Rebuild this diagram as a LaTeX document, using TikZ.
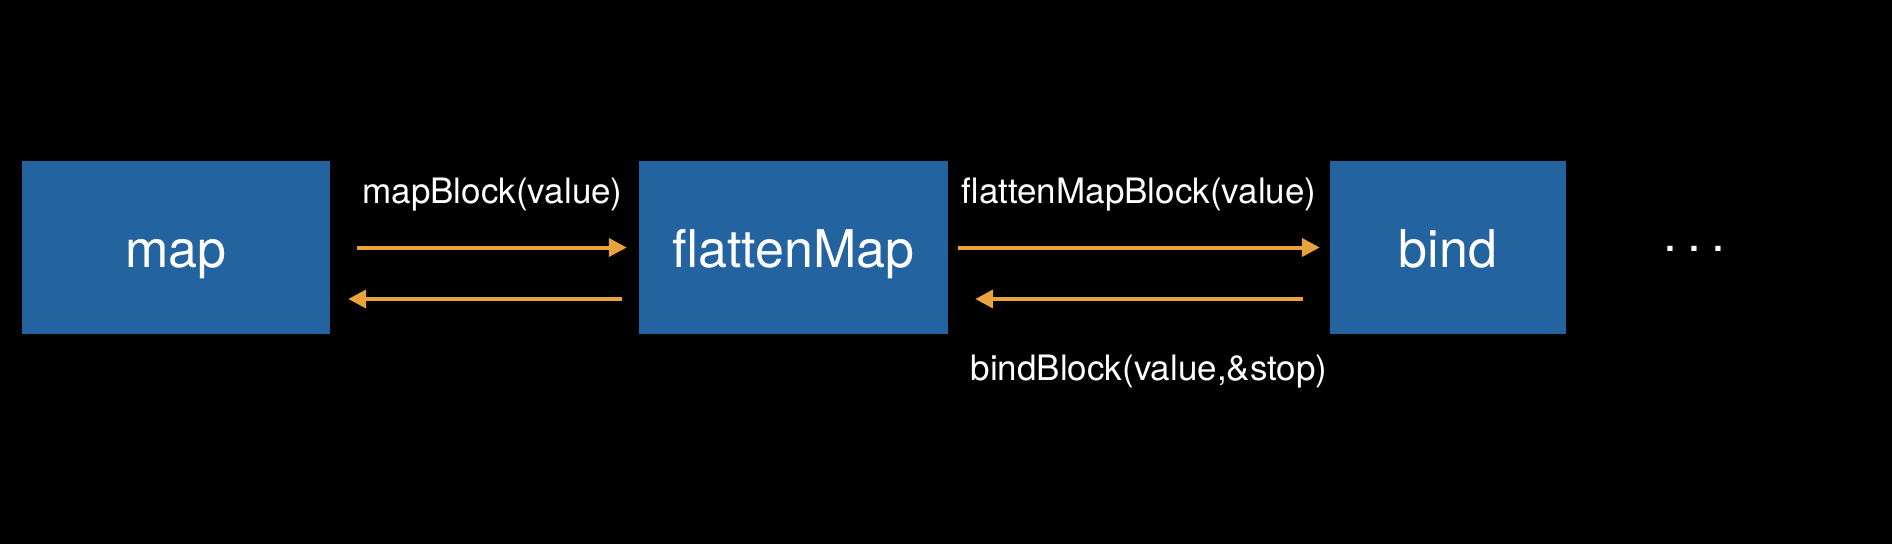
\documentclass[tikz,border=0pt]{standalone}
\usepackage{fontspec}
\setmainfont{TeX Gyre Heros}
\usetikzlibrary{arrows.meta}
\definecolor{SlideBlue}{HTML}{23639F}
\definecolor{SlideOrange}{HTML}{E9A23C}

\begin{document}
\begin{tikzpicture}[x=1pt,y=-1pt,>={Triangle[length=18pt,width=18pt]},
  block/.style={fill=SlideBlue,text=white,inner sep=0pt,minimum height=173pt,
    text height=39pt,text depth=0pt,font=\fontsize{52}{52}\selectfont},
  flow/.style={->,SlideOrange,line width=4pt},
  call/.style={text=white,inner sep=0pt,anchor=base,font=\fontsize{35}{35}\selectfont}]

% Slide measured in pixels (1 px = 1 pt), y grows downward
\def\midrow{247.5}
\def\backrow{51.5}  % return arrows sit this far below the box centre

% Background
\fill[black] (0,0) rectangle (1892,544);

% ---- OPERATORS ----
\node[block,minimum width=308pt] (map) at (176,\midrow) {map};
\node[block,minimum width=309pt] (flat) at (793.5,\midrow) {flattenMap};
\node[block,minimum width=236pt] (bind) at (1448,\midrow) {bind};

% more operators follow
\node[text=white,inner sep=0pt,anchor=base,font=\fontsize{50}{50}\selectfont]
  (more) at (1694,251) {.\hspace{10.1pt}.\hspace{10.1pt}.};

% ---- BLOCK CALLS ----
\draw[flow,shorten <=27pt,shorten >=12pt] (map.east) -- (flat.west)
    node[call,midway,xshift=8pt,yshift=44pt] {mapBlock(value)};
\draw[flow,shorten <=17pt,shorten >=18pt]
    ([yshift=-\backrow]flat.west) -- ([yshift=-\backrow]map.east);

\draw[flow,shorten <=10pt,shorten >=10pt] (flat.east) -- (bind.west)
    node[call,midway,yshift=44pt] {flattenMapBlock(value)};
\draw[flow,shorten <=27pt,shorten >=27pt]
    ([yshift=-\backrow]bind.west) -- ([yshift=-\backrow]flat.east)
    node[call,midway,xshift=10pt,yshift=-81pt] {bindBlock(value,\&stop)};

\end{tikzpicture}
\end{document}
